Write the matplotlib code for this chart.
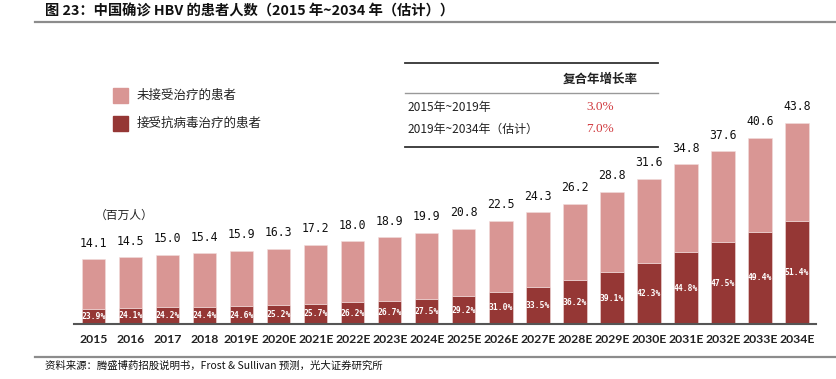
import matplotlib
matplotlib.use("Agg")
import matplotlib.pyplot as plt
from matplotlib.patches import Rectangle
from matplotlib.lines import Line2D

plt.rcParams['font.family'] = ['Noto Sans CJK SC', 'DejaVu Sans']

years = ["2015", "2016", "2017", "2018", "2019E", "2020E", "2021E", "2022E", "2023E", "2024E",
         "2025E", "2026E", "2027E", "2028E", "2029E", "2030E", "2031E", "2032E", "2033E", "2034E"]
totals = [14.1, 14.5, 15.0, 15.4, 15.9, 16.3, 17.2, 18.0, 18.9, 19.9,
          20.8, 22.5, 24.3, 26.2, 28.8, 31.6, 34.8, 37.6, 40.6, 43.8]
treated_pct = [23.9, 24.1, 24.2, 24.4, 24.6, 25.2, 25.7, 26.2, 26.7, 27.5,
               29.2, 31.0, 33.5, 36.2, 39.1, 42.3, 44.8, 47.5, 49.4, 51.4]
legend_labels = ["未接受治疗的患者", "接受抗病毒治疗的患者"]
cagr_periods = ["2015年~2019年", "2019年~2034年（估计）"]
cagr_values = ["3.0%", "7.0%"]

LIGHT = "#D99694"
DARK = "#953735"

W, H = 837, 379
fig = plt.figure(figsize=(W / 100, H / 100), dpi=100)

def fx(px):
    return px / W

def fy(py):
    return 1 - py / H

# axes
ax_left, ax_right = 74, 816
ax_bottom, ax_top = 324, 60
ax = fig.add_axes([fx(ax_left), fy(ax_bottom), fx(ax_right - ax_left), (ax_bottom - ax_top) / H])
xs = list(range(len(years)))
ax.set_xlim(-0.527, 19.51)
ax.set_ylim(0, (ax_bottom - ax_top) / 4.59)

treated = [t * p / 100 for t, p in zip(totals, treated_pct)]
untreated = [t - d for t, d in zip(totals, treated)]
bw = 0.63
ax.bar(xs, treated, width=bw, color=DARK, edgecolor="#f2dcdb", linewidth=0.4, zorder=2)
ax.bar(xs, untreated, width=bw, bottom=treated, color=LIGHT, edgecolor="#f2dcdb", linewidth=0.4, zorder=2)

for x, t, d, p in zip(xs, totals, treated, treated_pct):
    ax.annotate(f"{t:.1f}", (x, t), xytext=(0, 7), textcoords="offset points",
                ha="center", va="bottom", fontsize=8.3, color="#111111", family="DejaVu Sans Mono")
    ax.text(x, d / 2, f"{p:.1f}%", ha="center", va="center", fontsize=5.8, color="white",
            fontweight="bold", family="DejaVu Sans Mono")

for s in ["top", "right", "left"]:
    ax.spines[s].set_visible(False)
ax.spines["bottom"].set_color("#555555")
ax.spines["bottom"].set_linewidth(1.5)
ax.set_yticks([])
ax.set_xticks(xs)
ax.set_xticklabels(years, fontsize=8.8, color="#222222", fontweight="bold", family="Lato")
ax.tick_params(axis="x", length=0, pad=7)

# title
fig.text(fx(45), fy(12), "图 23：中国确诊 HBV 的患者人数（2015 年~2034 年（估计））",
         fontsize=10.3, fontweight="bold", ha="left", va="center", color="#111111")
fig.add_artist(Line2D([fx(35), fx(837)], [fy(21.5), fy(21.5)], color="#8c8c8c", linewidth=1.6))
# footer
fig.add_artist(Line2D([fx(35), fx(837)], [fy(356.5), fy(356.5)], color="#8c8c8c", linewidth=1.6))
fig.text(fx(45), fy(366), "资料来源：腾盛博药招股说明书，Frost & Sullivan 预测，光大证券研究所",
         fontsize=7.5, ha="left", va="center", color="#111111")

# legend
for i, (lab, col) in enumerate(zip(legend_labels, [LIGHT, DARK])):
    y0 = 88 + i * 28
    fig.add_artist(Rectangle((fx(113), fy(y0 + 15)), fx(15), 15 / H, color=col, transform=fig.transFigure))
    fig.text(fx(137), fy(y0 + 7.5), lab, fontsize=9, ha="left", va="center", color="#222222")

fig.text(fx(95), fy(215), "（百万人）", fontsize=8.5, ha="left", va="center", color="#222222")

# CAGR table
fig.add_artist(Line2D([fx(405), fx(658)], [fy(63), fy(63)], color="#333333", linewidth=1.3))
fig.add_artist(Line2D([fx(405), fx(658)], [fy(93), fy(93)], color="#999999", linewidth=1.0))
fig.add_artist(Line2D([fx(405), fx(658)], [fy(147), fy(147)], color="#333333", linewidth=1.3))
fig.text(fx(600), fy(79), "复合年增长率", fontsize=9, fontweight="bold", ha="center", va="center", color="#222222")
for i, (per, val) in enumerate(zip(cagr_periods, cagr_values)):
    yy = 107 + i * 22
    fig.text(fx(408), fy(yy), per, fontsize=8.6, ha="left", va="center", color="#222222")
    fig.text(fx(600), fy(yy), val, fontsize=9.5, ha="center", va="center", color="#d0393e",
             family="Liberation Serif")

fig.savefig("out.png", dpi=100)
